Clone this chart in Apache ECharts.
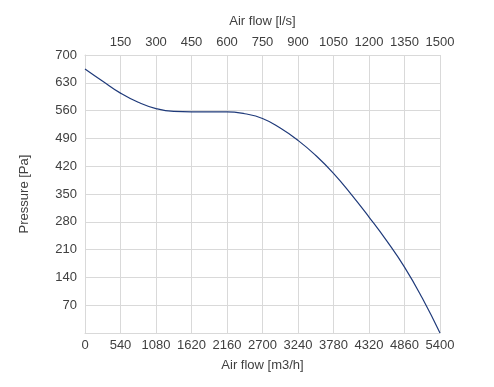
<!DOCTYPE html>
<html>
<head>
<meta charset="utf-8">
<script src="https://cdn.jsdelivr.net/npm/echarts@6/dist/echarts.min.js"></script>
<style>
html,body{margin:0;padding:0;background:#fff;}
#chart{width:494px;height:387px;}
</style>
</head>
<body>
<div id="chart"></div>
<script>
var airflowM3h = [0, 270, 540, 810, 1080, 1350, 1620, 1890, 2160, 2430, 2700, 2970, 3240, 3510, 3780, 4050, 4320, 4590, 4860, 5130, 5400];
var pressurePa = [665, 634, 604, 581, 565, 558, 557, 557, 557, 552, 540, 516, 485, 447, 402, 349, 292, 232, 166, 88, 0];

var bottomAxisMax = 5400, bottomAxisInterval = 540;
var topAxisMax = 1500, topAxisInterval = 150;
var yAxisMax = 700, yAxisInterval = 70;

var points = airflowM3h.map(function (x, i) { return [x, pressurePa[i]]; });

var textColor = '#404040';
var gridColor = '#d9d9d9';
var fontFamily = 'Liberation Sans, Arial, sans-serif';
var plain = function (v) { return String(v); };

var chart = echarts.init(document.getElementById('chart'));
chart.setOption({
  animation: false,
  grid: { left: 85, right: 54, top: 55, bottom: 54 },
  xAxis: [
    {
      type: 'value', position: 'bottom', min: 0, max: bottomAxisMax, interval: bottomAxisInterval,
      name: 'Air flow [m3/h]', nameLocation: 'middle', nameGap: 26,
      nameTextStyle: { color: textColor, fontSize: 13, fontFamily: fontFamily },
      axisLine: { show: true, lineStyle: { color: gridColor } },
      axisTick: { show: false },
      axisLabel: { color: textColor, fontSize: 13, fontFamily: fontFamily, margin: 6, formatter: plain },
      splitLine: { show: true, lineStyle: { color: gridColor, width: 1 } }
    },
    {
      type: 'value', position: 'top', min: 0, max: topAxisMax, interval: topAxisInterval,
      name: 'Air flow [l/s]', nameLocation: 'middle', nameGap: 27,
      nameTextStyle: { color: textColor, fontSize: 13, fontFamily: fontFamily },
      axisLine: { show: true, lineStyle: { color: gridColor } },
      axisTick: { show: false },
      axisLabel: { color: textColor, fontSize: 13, fontFamily: fontFamily, margin: 6, showMinLabel: false, formatter: plain },
      splitLine: { show: false }
    }
  ],
  yAxis: {
    type: 'value', min: 0, max: yAxisMax, interval: yAxisInterval,
    name: 'Pressure [Pa]', nameLocation: 'middle', nameGap: 54, nameRotate: 90,
    nameTextStyle: { color: textColor, fontSize: 13, fontFamily: fontFamily },
    axisLine: { show: true, lineStyle: { color: gridColor } },
    axisTick: { show: false },
    axisLabel: { color: textColor, fontSize: 13, fontFamily: fontFamily, margin: 8, showMinLabel: false, formatter: plain },
    splitLine: { show: true, lineStyle: { color: gridColor, width: 1 } }
  },
  series: [{
    type: 'line', xAxisIndex: 0, data: points, smooth: 0.5, showSymbol: false,
    lineStyle: { color: '#1f3a7a', width: 1.2 }
  }]
});
</script>
</body>
</html>
